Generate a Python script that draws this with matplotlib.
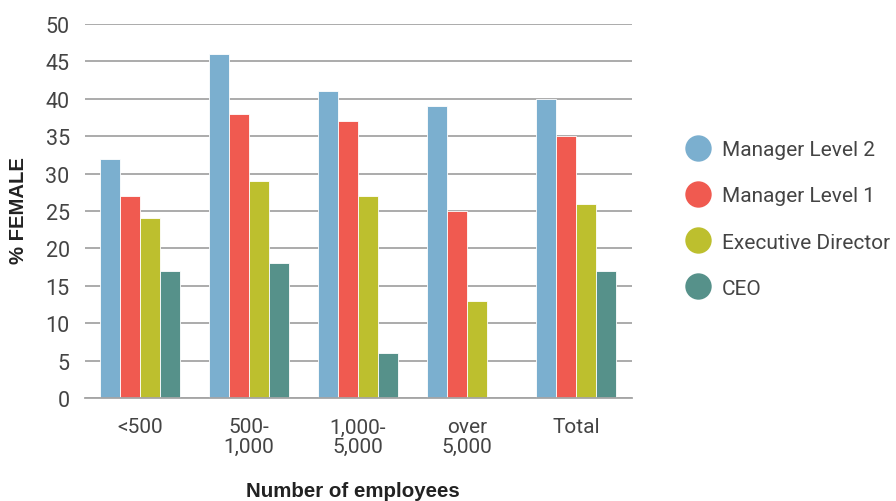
import numpy as np
import matplotlib
matplotlib.use("Agg")
import matplotlib.pyplot as plt
from matplotlib.lines import Line2D

categories = ["<500", "500-\n1,000", "1,000-\n5,000", "over\n5,000", "Total"]
series_names = ["Manager Level 2", "Manager Level 1", "Executive Director", "CEO"]
manager_l2 = [32, 46, 41, 39, 40]
manager_l1 = [27, 38, 37, 25, 35]
exec_dir = [24, 29, 27, 13, 26]
ceo = [17, 18, 6, np.nan, 17]
colors = ["#7BAFCF", "#F05A50", "#BDBF2E", "#56918A"]
yticks = [0, 5, 10, 15, 20, 25, 30, 35, 40, 45, 50]

plt.rcParams['font.family'] = ['Roboto', 'DejaVu Sans']
TXT = '#444444'
BOLD = ['Liberation Sans', 'DejaVu Sans']

fig = plt.figure(figsize=(8.96, 5.02), dpi=100)
ax = fig.add_axes([85/896, 1-399/502, (632-85)/896, (399-25)/502])

x = np.arange(len(categories))
w = 0.183
data = [manager_l2, manager_l1, exec_dir, ceo]
for i, (vals, c) in enumerate(zip(data, colors)):
    ax.bar(x + (i - 1.5) * w, vals, width=w, color=c, edgecolor='white', linewidth=0.6, zorder=3)

ax.set_xlim(-0.505, 4.515)
ax.set_ylim(0, 50)
ax.set_yticks(yticks)
ax.set_yticklabels([str(t) for t in yticks], fontsize=15.5, color=TXT)
ax.set_xticks(x)
ax.set_xticklabels(categories, fontsize=15, color=TXT, linespacing=1.0)
ax.tick_params(axis='both', length=0)
ax.tick_params(axis='y', pad=11)
ax.tick_params(axis='x', pad=14)
ax.grid(axis='y', color='#A5A5A5', linewidth=1.3, zorder=0)
for s in ['top', 'right', 'left']:
    ax.spines[s].set_visible(False)
ax.spines['bottom'].set_color('#A5A5A5')
ax.spines['bottom'].set_linewidth(1.3)
ax.spines['bottom'].set_zorder(4)

fig.text(18/896, 1-211/502, "% FEMALE", fontsize=14.6, fontweight='bold', family=BOLD,
         color='#222222', ha='center', va='center', rotation=90)
fig.text(353/896, 1-492/502, "Number of employees", fontsize=14.8, fontweight='bold', family=BOLD,
         color='#222222', ha='center', va='center')

handles = [Line2D([0], [0], marker='o', linestyle='none', markersize=19,
                  markerfacecolor=c, markeredgecolor='none') for c in colors]
leg = fig.legend(handles, series_names, loc='center left', bbox_to_anchor=(677/896, 1-220/502),
                 frameon=False, fontsize=15, labelspacing=1.3, handletextpad=0.55,
                 borderaxespad=0, handlelength=1.2)
for t in leg.get_texts():
    t.set_color(TXT)

fig.savefig("out.png", dpi=100)
